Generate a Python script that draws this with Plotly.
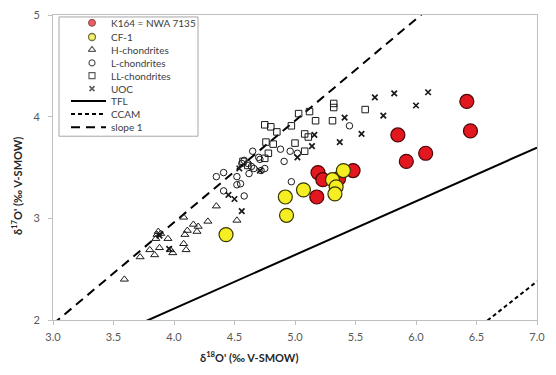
import plotly.graph_objects as go

# ---------------- data ----------------
k164_x = [6.42, 6.45, 5.85, 6.08, 5.92, 5.19, 5.23, 5.48, 5.18, 5.36]
k164_y = [4.15, 3.86, 3.82, 3.64, 3.56, 3.45, 3.38, 3.47, 3.21, 3.39]

cf1_x = [5.40, 5.31, 5.34, 5.33, 5.07, 4.92, 4.93, 4.43]
cf1_y = [3.47, 3.38, 3.31, 3.24, 3.28, 3.21, 3.03, 2.84]

h_x = [3.59, 3.72, 3.80, 3.84, 3.88, 3.87, 3.86, 3.89, 3.85, 3.95, 3.97, 3.99,
       4.08, 4.10, 4.09, 4.11, 4.16, 4.20, 4.19, 4.08, 4.28, 4.35, 4.52]
h_y = [2.40, 2.62, 2.69, 2.64, 2.71, 2.87, 2.84, 2.85, 2.80, 2.80, 2.69, 2.66,
       2.75, 2.69, 2.84, 2.88, 2.94, 2.92, 2.87, 3.01, 2.97, 3.12, 2.98]

l_x = [5.45, 4.88, 4.96, 5.02, 4.91, 4.71, 4.72, 4.65, 4.58, 4.56, 4.61, 4.64,
       4.66, 4.62, 4.70, 4.75, 4.41, 4.35, 4.52, 4.52, 4.55, 4.41, 4.58, 4.97]
l_y = [3.91, 3.68, 3.66, 3.64, 3.56, 3.58, 3.47, 3.66, 3.57, 3.54, 3.54, 3.51,
       3.49, 3.44, 3.60, 3.49, 3.45, 3.41, 3.41, 3.33, 3.34, 3.27, 3.22, 3.36]

ll_x = [5.32, 5.32, 5.58, 5.12, 5.03, 5.17, 5.31, 4.97, 4.75, 4.80, 4.85,
        5.08, 5.11, 4.76, 4.82, 5.00, 5.08, 4.78, 4.75, 4.57, 4.61]
ll_y = [4.13, 4.09, 4.07, 4.05, 4.03, 3.96, 3.96, 3.91, 3.92, 3.90, 3.85,
        3.83, 3.80, 3.75, 3.73, 3.74, 3.66, 3.64, 3.59, 3.56, 3.52]

uoc_x = [6.10, 5.82, 5.66, 6.00, 5.73, 5.41, 5.55, 5.37, 5.16, 5.14, 5.02,
         4.71, 4.54, 4.45, 4.50, 4.56, 3.96, 3.88]
uoc_y = [4.24, 4.23, 4.19, 4.11, 4.01, 3.99, 3.83, 3.75, 3.82, 3.71, 3.60,
         3.47, 3.49, 3.23, 3.19, 3.07, 2.70, 2.83]

# reference lines (end points)
tfl_x = [3.0, 7.0]
tfl_y = [1.584, 3.696]
ccam_x = [6.0, 7.0]
ccam_y = [1.44, 2.38]
slope1_x = [3.0, 6.5]
slope1_y = [1.96, 5.46]

legend_labels = ["K164 = NWA 7135", "CF-1", "H-chondrites", "L-chondrites",
                 "LL-chondrites", "UOC", "TFL", "CCAM", "slope 1"]

x_ticks = [3.0, 3.5, 4.0, 4.5, 5.0, 5.5, 6.0, 6.5, 7.0]
y_ticks = [2, 3, 4, 5]

# ---------------- layout geometry (pixels) ----------------
W, H = 556, 375
PL, PR, PT, PB = 53, 537, 8, 320
FONT = "Lato"

def fx(p):
    return (p - PL) / (PR - PL)

def fy(p):
    return 1 - (p - PT) / (PB - PT)

RED = "#e3171f"
RED_LINE = "#4a0505"
YEL = "#f4ee22"
YEL_LINE = "#3a3500"
INK = "#1a1a1a"

fig = go.Figure()

fig.add_trace(go.Scatter(x=tfl_x, y=tfl_y, mode="lines",
                         line=dict(color="black", width=2), hoverinfo="skip"))
fig.add_trace(go.Scatter(x=ccam_x, y=ccam_y, mode="lines",
                         line=dict(color="black", width=2, dash="4px,3px"), hoverinfo="skip"))
fig.add_trace(go.Scatter(x=slope1_x, y=slope1_y, mode="lines",
                         line=dict(color="black", width=2, dash="9px,6px"), hoverinfo="skip"))

fig.add_trace(go.Scatter(x=h_x, y=h_y, mode="markers",
                         marker=dict(symbol="triangle-up-open", size=7, color=INK,
                                     line=dict(width=1, color=INK))))
fig.add_trace(go.Scatter(x=l_x, y=l_y, mode="markers",
                         marker=dict(symbol="circle-open", size=6.5, color=INK,
                                     line=dict(width=1, color=INK))))
fig.add_trace(go.Scatter(x=ll_x, y=ll_y, mode="markers",
                         marker=dict(symbol="square-open", size=6.5, color=INK,
                                     line=dict(width=1, color=INK))))
fig.add_trace(go.Scatter(x=uoc_x, y=uoc_y, mode="markers",
                         marker=dict(symbol="x-thin-open", size=5.5, color=INK,
                                     line=dict(width=1.7, color=INK))))
fig.add_trace(go.Scatter(x=k164_x, y=k164_y, mode="markers",
                         marker=dict(symbol="circle", size=14, color=RED,
                                     line=dict(width=1.2, color=RED_LINE))))
fig.add_trace(go.Scatter(x=cf1_x, y=cf1_y, mode="markers",
                         marker=dict(symbol="circle", size=14, color=YEL,
                                     line=dict(width=1.2, color=YEL_LINE))))

# ---------------- custom legend ----------------
row_px = [16, 30.5, 43.5, 57, 70, 83.3, 96, 109.3, 122.7]
mark_px = 92
text_px = 108.5

shapes = [dict(type="rect", xref="paper", yref="paper",
               x0=fx(59), x1=fx(198), y0=fy(132), y1=fy(10),
               line=dict(color="#a6a6a6", width=1), fillcolor="white", layer="below")]
dashes = ["solid", "4px,3px", "9px,6px"]
for i, d in enumerate(dashes):
    r = row_px[6 + i]
    shapes.append(dict(type="line", xref="paper", yref="paper",
                       x0=fx(71), x1=fx(106), y0=fy(r), y1=fy(r),
                       line=dict(color="black", width=2, dash=d), layer="above"))

fig.add_trace(go.Scatter(
    x=[fx(mark_px)] * 6, y=[fy(r) for r in row_px[:6]],
    xaxis="x2", yaxis="y2", mode="markers", cliponaxis=False, hoverinfo="skip",
    marker=dict(symbol=["circle", "circle", "triangle-up-open", "circle-open",
                        "square-open", "x-thin-open"],
                size=[7, 7, 6.5, 6, 6, 5],
                color=[RED, YEL, INK, INK, INK, INK],
                line=dict(width=[1, 1.3, 1.2, 1.2, 1.2, 1.6],
                          color=[RED_LINE, YEL_LINE, INK, INK, INK, INK]))))

annotations = []
for lab, r in zip(legend_labels, row_px):
    annotations.append(dict(text=lab, xref="paper", yref="paper", x=fx(text_px), y=fy(r),
                            xanchor="left", yanchor="middle", showarrow=False,
                            font=dict(family=FONT, size=10, color="#404040")))

annotations.append(dict(text="<b>δ<sup>18</sup>O' (‰ V-SMOW)</b>", xref="paper", yref="paper",
                        x=fx(249), y=fy(357), xanchor="center", yanchor="middle",
                        showarrow=False, font=dict(family=FONT, size=11, color="#262626")))
annotations.append(dict(text="<b>δ<sup>17</sup>O' (‰ V-SMOW)</b>", xref="paper", yref="paper",
                        x=fx(16), y=fy(183), xanchor="center", yanchor="middle", textangle=-90,
                        showarrow=False, font=dict(family=FONT, size=11, color="#262626")))

axis_common = dict(showgrid=False, zeroline=False, showline=True, linecolor="#bfbfbf",
                   linewidth=1, mirror=True, ticks="outside", ticklen=4, tickcolor="#bfbfbf",
                   tickfont=dict(family=FONT, size=11, color="#595959"))

fig.update_layout(
    width=W, height=H,
    margin=dict(l=PL, r=W - PR, t=PT, b=H - PB),
    paper_bgcolor="white", plot_bgcolor="white",
    showlegend=False,
    hovermode=False,
    xaxis=dict(range=[3, 7], tickvals=x_ticks, tickformat=".1f",
               ticklabelstandoff=3, **axis_common),
    yaxis=dict(range=[2, 5], tickvals=y_ticks, ticklabelstandoff=6, **axis_common),
    xaxis2=dict(range=[0, 1], overlaying="x", anchor="y2", visible=False, fixedrange=True),
    yaxis2=dict(range=[0, 1], overlaying="y", anchor="x2", visible=False, fixedrange=True),
    shapes=shapes,
    annotations=annotations,
)

fig.write_html("out.html",
               config={"displayModeBar": False, "staticPlot": True},
               post_script="document.body.style.margin='0';"
                           "document.body.style.overflow='hidden';")
